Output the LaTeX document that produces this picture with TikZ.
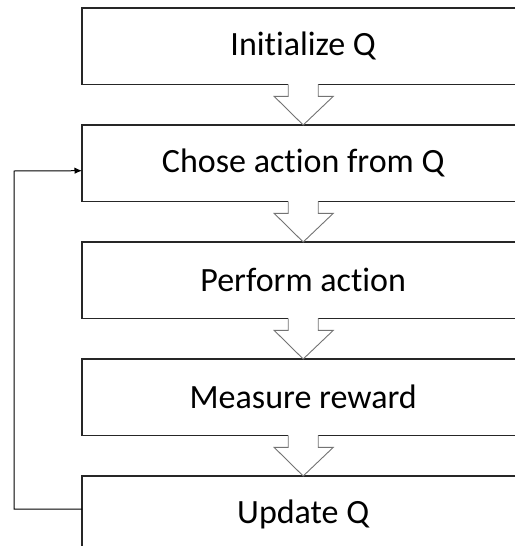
\documentclass[tikz,border=0pt]{standalone}
\usepackage{fontspec}
\setmainfont[Ligatures={NoCommon}]{Carlito}
\usetikzlibrary{calc,arrows.meta}
\tikzset{
  stepbox/.style={draw=none, rectangle,
    minimum width=442pt, minimum height=76pt, inner sep=0pt,
    font=\fontsize{34}{40}\selectfont, anchor=north west},
  boxedge/.style={draw=black!85, line width=1.1pt, line join=miter},
  blockfill/.style={fill=white, draw=none},
  blockedge/.style={draw=black!55, line width=0.9pt, line join=miter},
  loopline/.style={draw=black, line width=1pt, -{Latex[length=7.5pt,width=6.5pt]}}
}
\begin{document}
\begin{tikzpicture}[x=1pt,y=-1pt]
  \useasboundingbox (0,0) rectangle (515,546);
  % the boxes are open on the right and run out to the page edge
  \coordinate (rim) at (515,546);

  % process steps
  \node[stepbox] (b1) at (82,8)   {Initialize Q};
  \node[stepbox] (b2) at (82,125) {Chose action from Q};
  \node[stepbox] (b3) at (82,242) {Perform action};
  \node[stepbox] (b4) at (82,359) {Measure reward};
  \node[stepbox] (b5) at (82,476) {Update Q};
  \foreach \b in {b1,b2,b3,b4}
    \draw[boxedge] (\b.north west -| rim) -- (\b.north west) -- (\b.south west) -- (\b.south west -| rim);
  \draw[boxedge] (b5.north west -| rim) -- (b5.north west) -- (b5.west |- rim);

  % hollow block arrows between consecutive steps
  \foreach \a/\b in {b1/b2, b2/b3, b3/b4, b4/b5} {
    \fill[blockfill] ($(\a.south)+(-15,-1)$) -- ($(\a.south)+(-15,12)$)
      -- ($(\a.south)+(-29,12)$) -- (\b.north) -- ($(\a.south)+(30,12)$)
      -- ($(\a.south)+(15,12)$) -- ($(\a.south)+(15,-1)$) -- cycle;
    \draw[blockedge] ($(\a.south)+(-15,0)$) -- ($(\a.south)+(-15,12)$)
      -- ($(\a.south)+(-29,12)$) -- (\b.north) -- ($(\a.south)+(30,12)$)
      -- ($(\a.south)+(15,12)$) -- ($(\a.south)+(15,0)$);
  }

  % feedback loop from the last step back to action choice
  \coordinate (fbout) at ($(b5.west)+(0,-5)$);
  \coordinate (fbin) at ($(b2.west)+(0,7.5)$);
  \draw[loopline] (fbout) -- (14,509) -- (14,171) -- (fbin);
\end{tikzpicture}
\end{document}
